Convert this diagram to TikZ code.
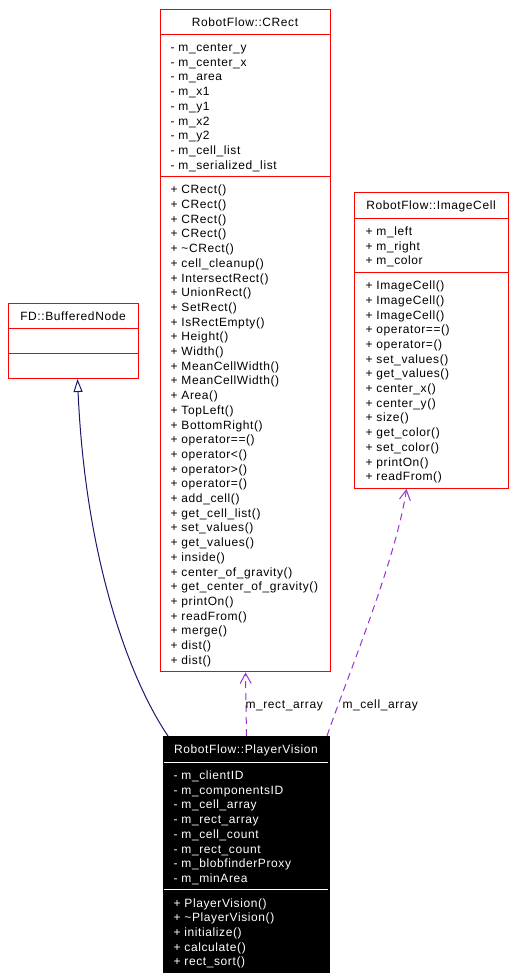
\documentclass[tikz,border=0pt]{standalone}
\usepackage{fontspec}
\newfontfamily\umlfont[LetterSpace=5]{Liberation Sans}
\usetikzlibrary{arrows.meta}
\definecolor{inhblue}{RGB}{25,25,112}
\definecolor{usepurple}{RGB}{154,50,205}

\begin{document}
\begin{tikzpicture}[x=1bp,y=-1bp,line width=1bp,
  clsbox/.style={draw=red,inner sep=0,anchor=north west},
  pvbox/.style={draw=black,fill=black,inner sep=0,anchor=north west},
  txt/.style={inner sep=0,font=\umlfont\fontsize{12bp}{14bp}\selectfont},
  ttl/.style={txt,anchor=base},
  mem/.style={txt,anchor=base west},
  inh/.style={inhblue,-{Triangle[open,length=13bp,width=9bp]}},
  member/.style={usepurple,dash pattern=on 7bp off 5bp,-{Straight Barb[length=10bp,width=11bp]}}]
  \useasboundingbox (0,0) rectangle (515,980);

  % FD::BufferedNode
  \node[clsbox,minimum width=130bp,minimum height=75bp] (bn) at (8,303) {};
  \draw[red] (8,328) -- (138,328) (8,353) -- (138,353);
  \node[ttl] (bnT) at (73,320) {FD::BufferedNode};

  % RobotFlow::CRect
  \node[clsbox,minimum width=170bp,minimum height=662.4bp] (crect) at (160,9) {};
  \draw[red] (160,34) -- (330,34) (160,176.3) -- (330,176.3);
  \node[ttl] (crectT) at (245,26) {RobotFlow::CRect};
  \foreach \m [count=\i from 0] in {- m\_center\_y,- m\_center\_x,- m\_area,- m\_x1,- m\_y1,- m\_x2,- m\_y2,- m\_cell\_list,- m\_serialized\_list}
    \node[mem] (crA\i) at (170,{51.5+\i*14.7}) {\m};
  \foreach \m [count=\i from 0] in {+ CRect(),+ CRect(),+ CRect(),+ CRect(),+ \textasciitilde CRect(),+ cell\_cleanup(),+ IntersectRect(),+ UnionRect(),+ SetRect(),+ IsRectEmpty(),+ Height(),+ Width(),+ MeanCellWidth(),+ MeanCellWidth(),+ Area(),+ TopLeft(),+ BottomRight(),+ operator==(),+ operator<(),+ operator>(),+ operator=(),+ add\_cell(),+ get\_cell\_list(),+ set\_values(),+ get\_values(),+ inside(),+ center\_of\_gravity(),+ get\_center\_of\_gravity(),+ printOn(),+ readFrom(),+ merge(),+ dist(),+ dist()}
    \node[mem] (crM\i) at (170,{193.8+\i*14.7}) {\m};

  % RobotFlow::ImageCell
  \node[clsbox,minimum width=154bp,minimum height=296bp] (ic) at (354,192) {};
  \draw[red] (354,218) -- (508,218) (354,272.1) -- (508,272.1);
  \node[ttl] (icT) at (431,209) {RobotFlow::ImageCell};
  \foreach \m [count=\i from 0] in {+ m\_left,+ m\_right,+ m\_color}
    \node[mem] (icA\i) at (365,{235.5+\i*14.7}) {\m};
  \foreach \m [count=\i from 0] in {+ ImageCell(),+ ImageCell(),+ ImageCell(),+ operator==(),+ operator=(),+ set\_values(),+ get\_values(),+ center\_x(),+ center\_y(),+ size(),+ get\_color(),+ set\_color(),+ printOn(),+ readFrom()}
    \node[mem] (icM\i) at (365,{289.6+\i*14.7}) {\m};

  % RobotFlow::PlayerVision
  \node[pvbox,minimum width=166bp,minimum height=236bp] (pv) at (163,736) {};
  \draw[white] (164,762) -- (328,762) (164,889.6) -- (328,889.6);
  \node[ttl,text=white] (pvT) at (246,753) {RobotFlow::PlayerVision};
  \foreach \m [count=\i from 0] in {- m\_clientID,- m\_componentsID,- m\_cell\_array,- m\_rect\_array,- m\_cell\_count,- m\_rect\_count,- m\_blobfinderProxy,- m\_minArea}
    \node[mem,text=white] (pvA\i) at (173,{779.5+\i*14.7}) {\m};
  \foreach \m [count=\i from 0] in {+ PlayerVision(),+ \textasciitilde PlayerVision(),+ initialize(),+ calculate(),+ rect\_sort()}
    \node[mem,text=white] (pvM\i) at (173,{907.1+\i*14.7}) {\m};

  % links
  \draw[inh] ([xshift=5bp]pv.north west) .. controls +(-38,-56) and +(8,182) .. ([xshift=4bp]bn.south);
  \draw[member] (pv.north) -- (crect.south);
  \draw[member] ([xshift=-3bp]pv.north east) .. controls +(19,-56) and +(-11,73) .. ([xshift=-25bp]ic.south);
  \node[mem] (rectLbl) at (245,708) {m\_rect\_array};
  \node[mem] (cellLbl) at (342,708) {m\_cell\_array};
\end{tikzpicture}
\end{document}
